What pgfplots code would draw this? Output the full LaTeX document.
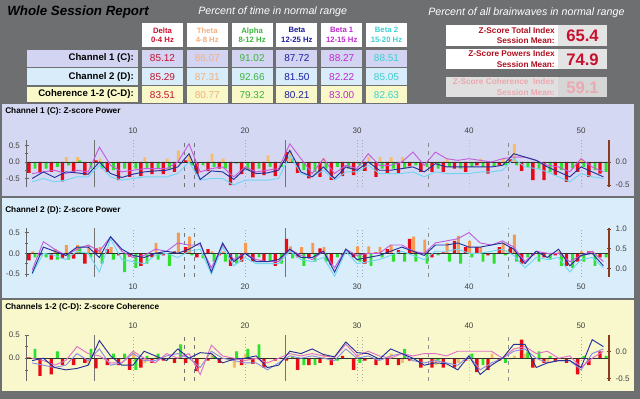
\documentclass[border=0pt]{standalone}
\usepackage{pgfplots}
\pgfplotsset{compat=1.18}
\usepackage{pgfplotstable}
\usepackage{fontspec}
\setmainfont{Liberation Sans}

\definecolor{bggray}{HTML}{6E6F71}
\definecolor{p1bg}{HTML}{D5D8F2}
\definecolor{p2bg}{HTML}{D9EEFA}
\definecolor{p3bg}{HTML}{F8F8CC}
\definecolor{barred}{HTML}{E80A14}
\definecolor{barorg}{HTML}{F6BE68}
\definecolor{barorgtwo}{HTML}{F59A55}
\definecolor{bargrn}{HTML}{2EE02E}
\definecolor{lnblue}{HTML}{25309A}
\definecolor{lnmag}{HTML}{C45CDC}
\definecolor{lncyan}{HTML}{6FD6F2}
\definecolor{lnpink}{HTML}{E070C8}
\definecolor{lnviol}{HTML}{8C8CE6}
\definecolor{axbrown}{HTML}{8A3A1E}
\definecolor{cdelta}{HTML}{C8102E}
\definecolor{ctheta}{HTML}{F2B080}
\definecolor{calpha}{HTML}{3CB43C}
\definecolor{cbeta}{HTML}{1C1CA0}
\definecolor{cbetaone}{HTML}{C028D0}
\definecolor{cbetatwo}{HTML}{3CCFD0}
\definecolor{rowone}{HTML}{D2D4F2}
\definecolor{rowtwo}{HTML}{D8ECFA}
\definecolor{rowthree}{HTML}{F8F8C8}
\definecolor{zdark}{HTML}{B0101E}
\definecolor{zred}{HTML}{C8102E}
\definecolor{zpale}{HTML}{EBA8B0}
\definecolor{boxgray}{HTML}{E4E4E4}

\pgfplotstableread{
n red orange green blue mag cyan
1 -0.33 0 -0.20 -0.50 -0.35 -0.60
2 -0.30 0 -0.20 -0.30 -0.30 -0.50
3 -0.30 0 -0.15 -0.47 -0.25 -0.60
4 -0.59 0.15 -0.10 -0.30 -0.35 -0.55
5 -0.30 0.15 0.05 -0.33 -0.25 -0.45
6 -0.40 0 -0.20 -0.37 -0.30 -0.45
7 0.05 0.10 -0.20 0.00 0.45 -0.10
8 -0.30 0 -0.25 -0.35 -0.10 -0.45
9 -0.55 0 -0.20 -0.47 -0.30 -0.55
10 -0.45 0 -0.20 -0.37 -0.25 -0.50
11 -0.43 0.15 -0.20 -0.30 -0.20 -0.45
12 -0.37 0 -0.20 -0.27 -0.20 -0.45
13 -0.37 0.10 -0.20 -0.25 -0.20 -0.45
14 -0.30 0.35 -0.05 -0.15 0.00 -0.35
15 0.05 0.20 -0.10 0.25 0.55 0.00
16 -0.37 0 -0.10 -0.53 -0.30 -0.55
17 -0.28 0.25 -0.15 -0.27 -0.20 -0.50
18 -0.20 0.10 -0.20 -0.30 -0.15 -0.50
19 -0.70 0 -0.05 -0.53 -0.45 -0.70
20 -0.37 0 -0.25 -0.20 -0.15 -0.55
21 -0.47 0 -0.20 -0.35 -0.30 -0.55
22 -0.40 0.20 -0.15 -0.33 -0.25 -0.55
23 -0.43 0 -0.15 -0.25 -0.20 -0.50
24 0.30 0.35 0.10 0.35 0.55 0.20
25 -0.33 0 -0.25 -0.30 0.10 -0.35
26 -0.50 0 -0.30 -0.45 -0.35 -0.45
27 -0.45 0.12 -0.20 -0.15 0.10 -0.25
28 -0.54 0 -0.15 -0.50 -0.35 -0.55
29 -0.43 0 -0.20 -0.15 -0.10 -0.30
30 -0.40 0 -0.10 -0.25 -0.20 -0.30
31 -0.27 0.15 -0.05 0.00 0.25 -0.10
32 -0.45 0.15 -0.20 -0.25 -0.10 -0.35
33 -0.33 0.15 -0.20 -0.25 -0.10 -0.35
34 -0.33 0.15 -0.20 -0.20 0.00 -0.35
35 -0.13 0 -0.10 -0.15 0.30 -0.30
36 -0.30 0 -0.15 -0.30 -0.10 -0.45
37 -0.30 0 -0.20 -0.05 0.30 -0.30
38 -0.30 0.10 -0.15 -0.15 0.10 -0.35
39 -0.20 0 -0.20 -0.15 0.05 -0.35
40 -0.30 0 -0.15 -0.15 0.10 -0.35
41 -0.10 0.10 -0.15 -0.15 0.05 -0.30
42 -0.35 0 -0.15 -0.15 0.00 -0.30
43 -0.10 0.10 -0.10 -0.10 0.10 -0.25
44 0.08 0.55 -0.10 0.25 0.15 0.10
45 -0.27 0 -0.15 0.15 0.15 -0.15
46 -0.55 0 -0.20 0.05 0.05 -0.20
47 -0.55 0 -0.30 -0.15 -0.10 -0.30
48 -0.40 0 -0.25 -0.30 -0.15 -0.45
49 -0.60 0 -0.20 -0.45 -0.30 -0.60
50 -0.30 0.10 -0.15 -0.15 0.10 -0.35
51 -0.45 0 -0.25 -0.30 -0.15 -0.45
52 -0.35 0 -0.30 -0.45 -0.30 -0.50
}\Pone

\pgfplotstableread{
n red orange green blue mag cyan
1 -0.17 0.05 -0.10 -0.48 -0.40 -0.50
2 -0.05 0 -0.10 0.15 0.28 0.00
3 -0.15 0.10 -0.15 0.05 0.10 -0.05
4 -0.13 0.20 -0.15 -0.05 -0.05 -0.15
5 -0.13 0.20 0.15 0.15 0.10 0.05
6 -0.25 0.20 -0.10 0.15 0.20 0.00
7 0.12 0.15 -0.25 -0.10 0.05 -0.45
8 0.10 0.15 -0.15 0.40 0.40 0.35
9 -0.05 0 -0.45 0.10 0.05 -0.15
10 -0.08 0 -0.35 -0.05 -0.10 -0.20
11 -0.30 0 -0.25 -0.10 -0.05 -0.25
12 -0.10 0.25 -0.15 0.00 0.10 -0.05
13 -0.05 0 -0.30 0.05 0.05 0.00
14 0.05 0.50 0 0.00 0.25 -0.10
15 0.15 0.40 -0.05 0.10 0.20 0.05
16 -0.10 0 -0.12 0.25 0.20 0.10
17 0.10 0.05 -0.20 -0.45 -0.35 -0.50
18 -0.05 0.05 -0.20 0.25 0.20 0.15
19 -0.30 0 -0.25 -0.20 -0.15 -0.30
20 -0.20 0.25 -0.05 0.00 0.00 -0.10
21 -0.20 0 -0.10 -0.20 -0.15 -0.25
22 -0.20 0 -0.20 -0.20 -0.20 -0.25
23 -0.30 0 -0.25 -0.15 -0.20 -0.25
24 0.35 0.17 -0.12 0.10 0.10 0.05
25 -0.10 0.15 -0.30 -0.10 -0.05 -0.15
26 -0.10 0.25 -0.20 -0.10 -0.15 -0.20
27 0.12 0.15 -0.20 0.05 0.05 -0.10
28 -0.28 0 -0.10 -0.45 -0.35 -0.55
29 -0.05 0 0 0.10 0.10 0.05
30 -0.10 0.17 -0.20 -0.15 -0.05 -0.25
31 -0.25 0.17 -0.30 -0.10 0.00 -0.20
32 0.02 0.15 -0.10 -0.05 0.00 -0.15
33 0.10 0.20 -0.20 0.05 0.20 -0.05
34 0.08 0 -0.20 0.15 0.20 0.05
35 0.35 0.40 -0.20 0.05 0.05 -0.05
36 0.00 0.33 -0.25 -0.05 0.00 -0.15
37 -0.10 0 -0.05 0.20 0.25 0.05
38 0.02 0.25 -0.20 0.20 0.30 0.05
39 0.30 0.42 -0.25 0.25 0.35 0.10
40 0.15 0.30 -0.10 0.15 0.50 0.00
41 0.15 0.15 -0.20 0.15 0.25 0.00
42 -0.05 0 -0.25 0.20 0.20 0.05
43 0.15 0.25 -0.05 0.25 0.30 0.10
44 0.15 0.45 -0.20 0.10 0.15 -0.05
45 -0.25 0 -0.10 -0.25 -0.20 -0.35
46 -0.05 0 -0.20 0.05 0.05 -0.10
47 -0.10 0 -0.15 -0.10 0.00 -0.15
48 -0.05 0.05 -0.30 0.10 0.00 -0.10
49 -0.30 0 -0.35 -0.30 -0.20 -0.45
50 -0.20 0.05 -0.20 -0.05 -0.05 -0.15
51 0.05 0.05 -0.30 0.00 0.05 -0.10
52 -0.10 0 -0.10 -0.30 -0.20 -0.35
}\Ptwo

\pgfplotstableread{
n red orange green blue mag cyan
1 0.02 0 0.20 -0.05 0.00 -0.10
2 -0.38 0 0 0.00 -0.05 -0.15
3 -0.35 0 0.15 -0.20 -0.15 -0.20
4 -0.15 0 0 -0.25 -0.05 -0.15
5 -0.15 0 0 -0.22 0.25 0.10
6 -0.10 -0.15 0.20 -0.15 0.10 -0.05
7 -0.22 0 0 0.38 0.05 0.20
8 -0.15 0 0.10 0.05 -0.10 -0.15
9 -0.15 0 0.10 -0.15 -0.10 -0.10
10 -0.25 0.15 -0.25 -0.15 0.15 0.10
11 -0.20 -0.10 0.05 0.15 0.00 -0.05
12 -0.10 0.05 0.10 0.05 -0.10 -0.05
13 -0.05 0 0 -0.05 0.10 0.05
14 -0.10 0 0.30 0.20 0.00 0.10
15 -0.10 0 0 0.00 0.10 0.00
16 -0.28 0 0 0.12 -0.35 -0.20
17 -0.05 0.10 0.05 0.10 0.28 0.15
18 -0.10 0 0 -0.10 0.05 0.00
19 -0.05 -0.20 0.15 -0.02 0.00 -0.05
20 -0.15 0.10 0.20 0.00 -0.05 -0.10
21 -0.12 0 0.30 0.05 0.00 -0.10
22 -0.20 0 0 -0.20 -0.10 -0.25
23 -0.05 0 0 -0.15 0.00 -0.10
24 -0.05 0 0.05 0.15 0.10 0.05
25 -0.25 0 -0.15 0.10 0.05 0.00
26 -0.15 0 -0.15 0.20 0.10 0.05
27 -0.10 0.10 0 0.08 0.05 0.00
28 -0.15 0 -0.05 0.03 0.02 -0.05
29 0.05 0 0 0.35 0.30 0.20
30 -0.25 0.05 -0.10 0.12 0.05 0.00
31 -0.05 0 0 0.10 0.15 0.05
32 -0.15 0 0 -0.02 0.05 -0.05
33 -0.15 0.10 0 0.20 0.00 0.05
34 -0.15 -0.10 0.20 0.10 0.10 0.10
35 -0.05 0 0 0.00 0.05 -0.05
36 -0.20 0 0 -0.15 0.10 -0.10
37 -0.20 -0.15 -0.05 -0.10 0.10 -0.05
38 -0.20 0 0 -0.12 0.05 -0.10
39 -0.20 -0.10 0 -0.25 0.15 -0.15
40 -0.05 0 0.10 0.05 0.15 0.05
41 -0.30 0 -0.15 -0.35 0.15 -0.25
42 -0.25 0.10 0 -0.15 0.15 -0.10
43 -0.05 0 -0.10 0.00 0.00 0.00
44 -0.02 0.05 0 0.30 0.20 0.15
45 0.40 0.10 0.15 0.30 0.25 0.20
46 -0.20 0 0.15 -0.20 0.10 0.00
47 -0.10 -0.10 0.05 -0.10 0.15 -0.10
48 -0.08 0 0 -0.05 0.00 -0.05
49 -0.10 0 0 -0.05 0.05 -0.05
50 -0.35 0 0.05 -0.20 -0.20 -0.25
51 -0.15 0 0 0.40 0.00 0.10
52 0.15 0 0.05 0.25 0.15 0.20
}\Pthree

\pgfplotsset{
  panel/.style={scale only axis, width=436.8pt, xmin=0.5, xmax=52.5,
    axis y line*=left,
    x axis line style={draw=none},
    xtick={10,20,30,40,50}, xticklabels={10,20,30,40,50},
    xtick style={draw=none},
    y axis line style={draw=black!60, line width=0.8pt},
    ytick={-0.5,0,0.5}, yticklabels={-0.5,0.0,0.5}, minor ytick={-0.25,0.25},
    tick align=center, major tick length=3pt, minor tick length=2pt,
    ytick style={draw=black!60, line width=0.5pt},
    tick label style={font=\fontsize{6}{7}\selectfont, text=black!75},
  },
  rpanel/.style={scale only axis, width=436.8pt, xmin=0.5, xmax=52.5,
    axis y line*=right, axis x line=none,
    y axis line style={draw=axbrown, line width=0.8pt},
    ytick style={draw=axbrown, line width=0.5pt},
    tick align=center, major tick length=3pt, minor tick length=2pt,
    tick label style={font=\fontsize{6}{7}\selectfont, text=black!75},
  },
  redbar/.style={ybar, bar width=0.3, bar shift=-0.3, fill=barred, draw=none},
  orgbar/.style={ybar, bar width=0.26, bar shift=0.05, fill=#1, draw=none},
  grnbar/.style={ybar, bar width=0.26, bar shift=0.25, fill=bargrn, draw=none},
}

\newcommand{\vl}[2]{\draw[#2] ({axis cs:#1,0} |- {rel axis cs:0,0}) -- ({axis cs:#1,0} |- {rel axis cs:0,1});}
\newcommand{\vlines}{%
  \vl{6.6}{black!55, line width=0.8pt}
  \vl{23.6}{black!55, line width=0.8pt}
  \vl{14.55}{black!55, dashed, line width=0.5pt}
  \vl{15.5}{black!55, dashed, line width=0.5pt}
  \vl{36.4}{black!45, dashed, line width=0.5pt}
  \vl{43.5}{black!45, dashed, line width=0.5pt}
  \vl{10}{black!35, dotted, line width=0.5pt}
  \vl{20}{black!35, dotted, line width=0.5pt}
  \vl{30.05}{black!35, dotted, line width=0.5pt}
  \vl{30.5}{black!35, dotted, line width=0.5pt}
  \vl{40}{black!25, dotted, line width=0.5pt}
  \vl{50}{black!35, dotted, line width=0.5pt}
}

\newcommand{\hcell}[4]{%
  \fill[white] (#1,23) rectangle ++(41,24);
  \node[font=\bfseries\fontsize{5.8}{7}\selectfont, text=#2, align=center, inner sep=0pt] at (#1+20.5,35) {#3\\#4};
}
\newcommand{\vcell}[5]{% x, ytop, height, bg, color, text -> uses #1 x, #2 ytop, #3 bg, #4 color, #5 text
  \fill[#3] (#1,#2) rectangle ++(41,17);
  \node[font=\fontsize{7.5}{8}\selectfont, text=#4, inner sep=0pt] at (#1+20.5,#2+8.5) {#5};
}

\begin{document}
\begin{tikzpicture}
\begin{scope}[x=0.75pt, y=-0.75pt]
  \useasboundingbox (0,0) rectangle (640,399);
  \fill[bggray] (0,0) rectangle (640,399);
  % panels
  \fill[p1bg] (2,104) rectangle (634,196);
  \fill[p2bg] (2,198) rectangle (634,298);
  \fill[p3bg] (2,300) rectangle (634,391);
  % titles
  \node[anchor=west, font=\bfseries\itshape\fontsize{10}{12}\selectfont, text=black, inner sep=0pt] at (7,12) {Whole Session Report};
  \node[anchor=west, font=\itshape\fontsize{8}{10}\selectfont, text=white, inner sep=0pt] at (198,12) {Percent of time in normal range};
  \node[anchor=west, font=\itshape\fontsize{8}{10}\selectfont, text=white, inner sep=0pt] at (428,13) {Percent of all brainwaves in normal range};
  % header cells
  \hcell{142}{cdelta}{Delta}{0-4 Hz}
  \hcell{186.8}{ctheta}{Theta}{4-8 Hz}
  \hcell{231.6}{calpha}{Alpha}{8-12 Hz}
  \hcell{276.4}{cbeta}{Beta}{12-25 Hz}
  \hcell{321.2}{cbetaone}{Beta 1}{12-15 Hz}
  \hcell{366}{cbetatwo}{Beta 2}{15-20 Hz}
  % row label cells
  \fill[rowone] (27,50) rectangle (138,67);
  \fill[rowtwo] (27,68.5) rectangle (138,85.5);
  \fill[rowthree] (27,87) rectangle (138,102);
  \node[anchor=east, font=\bfseries\fontsize{7.2}{8}\selectfont, inner sep=0pt] at (134,58.5) {Channel 1 (C):};
  \node[anchor=east, font=\bfseries\fontsize{7.2}{8}\selectfont, inner sep=0pt] at (134,77) {Channel 2 (D):};
  \node[anchor=east, font=\bfseries\fontsize{7.2}{8}\selectfont, inner sep=0pt] at (134,94.5) {Coherence 1-2 (C-D):};
  % row 1
  \vcell{142}{50}{rowone}{cdelta}{85.12}
  \vcell{186.8}{50}{rowone}{ctheta}{86.07}
  \vcell{231.6}{50}{rowone}{calpha}{91.02}
  \vcell{276.4}{50}{rowone}{cbeta}{87.72}
  \vcell{321.2}{50}{rowone}{cbetaone}{88.27}
  \vcell{366}{50}{rowone}{cbetatwo}{88.51}
  % row 2
  \vcell{142}{68.5}{rowtwo}{cdelta}{85.29}
  \vcell{186.8}{68.5}{rowtwo}{ctheta}{87.31}
  \vcell{231.6}{68.5}{rowtwo}{calpha}{92.66}
  \vcell{276.4}{68.5}{rowtwo}{cbeta}{81.50}
  \vcell{321.2}{68.5}{rowtwo}{cbetaone}{82.22}
  \vcell{366}{68.5}{rowtwo}{cbetatwo}{85.05}
  % row 3
  \vcell{142}{86.5}{rowthree}{cdelta}{83.51}
  \vcell{186.8}{86.5}{rowthree}{ctheta}{80.77}
  \vcell{231.6}{86.5}{rowthree}{calpha}{79.32}
  \vcell{276.4}{86.5}{rowthree}{cbeta}{80.21}
  \vcell{321.2}{86.5}{rowthree}{cbetaone}{83.00}
  \vcell{366}{86.5}{rowthree}{cbetatwo}{82.63}
  % right boxes
  \fill[white] (446,25) rectangle (558,46);
  \fill[boxgray] (558,25) rectangle (607,46);
  \node[anchor=east, align=right, font=\bfseries\fontsize{6.2}{8}\selectfont, text=zdark, inner sep=0pt] at (555,35.5) {Z-Score Total Index\\Session Mean:};
  \node[font=\bfseries\fontsize{12.5}{14}\selectfont, text=zred, inner sep=0pt] at (582.5,36) {65.4};
  \fill[white] (446,49) rectangle (558,69);
  \fill[boxgray] (558,49) rectangle (607,69);
  \node[anchor=east, align=right, font=\bfseries\fontsize{6.2}{8}\selectfont, text=zdark, inner sep=0pt] at (555,59) {Z-Score Powers Index\\Session Mean:};
  \node[font=\bfseries\fontsize{12.5}{14}\selectfont, text=zred, inner sep=0pt] at (582.5,59.5) {74.9};
  \fill[black!12] (446,77) rectangle (558,97);
  \fill[black!16] (558,77) rectangle (607,97);
  \node[anchor=east, align=right, font=\bfseries\fontsize{6.2}{8}\selectfont, text=zpale, inner sep=0pt] at (555,87) {Z-Score Coherence\ \ Index\\Session Mean:};
  \node[font=\bfseries\fontsize{12.5}{14}\selectfont, text=zpale, inner sep=0pt] at (582.5,87.5) {59.1};
  % panel titles
  \node[anchor=west, font=\bfseries\fontsize{6.2}{8}\selectfont, inner sep=0pt] at (5,111) {Channel 1 (C): Z-score Power};
  \node[anchor=west, font=\bfseries\fontsize{6.2}{8}\selectfont, inner sep=0pt] at (5,210) {Channel 2 (D): Z-score Power};
  \node[anchor=west, font=\bfseries\fontsize{6.2}{8}\selectfont, inner sep=0pt] at (5,307) {Channels 1-2 (C-D): Z-score Coherence};
  \coordinate (A1) at (26.6,187);
  \coordinate (A2) at (26.6,277);
  \coordinate (A3) at (26.6,381);
\end{scope}

% ---------- Panel 1 ----------
\begin{axis}[panel, at={(A1)}, anchor=south west, height=35.25pt,
  ymin=-0.758, ymax=0.667, axis x line*=top]
  \vlines
  \addplot[redbar] table[x=n,y=red]{\Pone};
  \addplot[orgbar=barorg] table[x=n,y=orange]{\Pone};
  \addplot[grnbar] table[x=n,y=green]{\Pone};
  \addplot[black!80, line width=0.6pt] coordinates {(0.5,0) (52.5,0)};
  \addplot[lncyan, line width=0.7pt] table[x=n,y=cyan]{\Pone};
  \addplot[lnmag, line width=0.7pt] table[x=n,y=mag]{\Pone};
  \addplot[lnblue, line width=0.7pt] table[x=n,y=blue]{\Pone};
\end{axis}
\begin{axis}[rpanel, at={(A1)}, anchor=south west, height=35.25pt,
  ymin=-0.543, ymax=0.478, ytick={-0.5,0}, yticklabels={-0.5,0.0}, minor ytick={-0.25,0.25}]
  \addplot[draw=none] coordinates {(1,0)};
\end{axis}

% ---------- Panel 2 ----------
\begin{axis}[panel, at={(A2)}, anchor=south west, height=36.75pt,
  ymin=-0.57, ymax=0.61, axis x line*=bottom]
  \vlines
  \addplot[redbar] table[x=n,y=red]{\Ptwo};
  \addplot[orgbar=barorgtwo] table[x=n,y=orange]{\Ptwo};
  \addplot[grnbar] table[x=n,y=green]{\Ptwo};
  \addplot[black!80, line width=0.6pt] coordinates {(0.5,0) (52.5,0)};
  \addplot[lncyan, line width=0.7pt] table[x=n,y=cyan]{\Ptwo};
  \addplot[lnmag, line width=0.7pt] table[x=n,y=mag]{\Ptwo};
  \addplot[lnblue, line width=0.7pt] table[x=n,y=blue]{\Ptwo};
\end{axis}
\begin{axis}[rpanel, at={(A2)}, anchor=south west, height=36.75pt,
  ymin=-0.22, ymax=1.03, ytick={0,0.5,1}, yticklabels={0.0,0.5,1.0}, minor ytick={0.25,0.75}]
  \addplot[draw=none] coordinates {(1,0)};
\end{axis}

% ---------- Panel 3 ----------
\begin{axis}[panel, at={(A3)}, anchor=south west, height=34.5pt,
  ymin=-0.49, ymax=0.5, axis x line*=top]
  \vlines
  \addplot[redbar] table[x=n,y=red]{\Pthree};
  \addplot[orgbar=barorg] table[x=n,y=orange]{\Pthree};
  \addplot[grnbar] table[x=n,y=green]{\Pthree};
  \addplot[black!80, line width=0.6pt] coordinates {(0.5,0) (52.5,0)};
  \addplot[lnviol, line width=0.7pt] table[x=n,y=cyan]{\Pthree};
  \addplot[lnpink, line width=0.7pt] table[x=n,y=mag]{\Pthree};
  \addplot[lnblue, line width=0.7pt] table[x=n,y=blue]{\Pthree};
\end{axis}
\begin{axis}[rpanel, at={(A3)}, anchor=south west, height=34.5pt,
  ymin=-0.54, ymax=0.30, ytick={-0.5,0}, yticklabels={-0.5,0.0}, minor ytick={-0.25}]
  \addplot[draw=none] coordinates {(1,0)};
\end{axis}
\end{tikzpicture}
\end{document}
